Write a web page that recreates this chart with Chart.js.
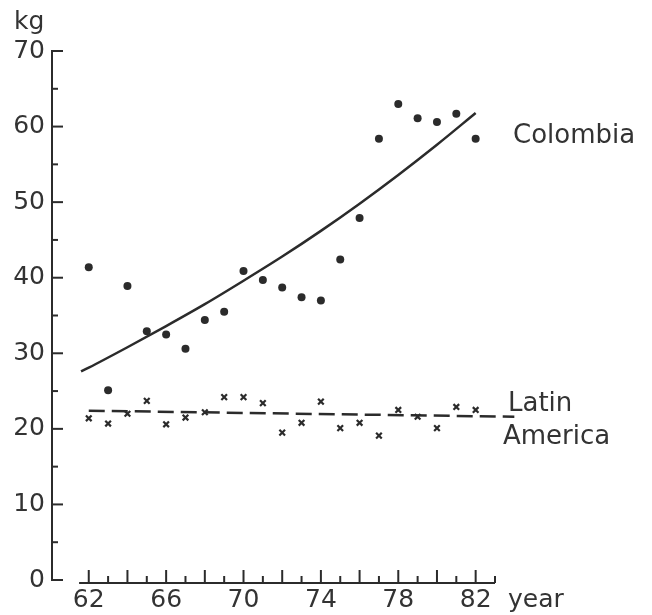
<!DOCTYPE html>
<html>
<head>
<meta charset="utf-8">
<script src="https://cdn.jsdelivr.net/npm/chart.js@4.4.1/dist/chart.umd.min.js"></script>
<style>
  html, body { margin: 0; padding: 0; background: #fff; }
  #wrap { width: 652px; height: 615px; position: relative; }
</style>
</head>
<body>
<div id="wrap"><canvas id="chart"></canvas></div>
<script>
// years on the x axis
const years = [62, 63, 64, 65, 66, 67, 68, 69, 70, 71, 72, 73, 74, 75, 76, 77, 78, 79, 80, 81, 82];
// Colombia, kg (dots)
const colombia = [41.4, 25.1, 38.9, 32.9, 32.5, 30.6, 34.4, 35.5, 40.9, 39.7, 38.7, 37.4, 37.0, 42.4, 47.9, 58.4, 63.0, 61.1, 60.6, 61.7, 58.4];
// Latin America, kg (crosses)
const latinAmerica = [21.4, 20.7, 22.0, 23.7, 20.6, 21.5, 22.2, 24.2, 24.2, 23.4, 19.5, 20.8, 23.6, 20.1, 20.8, 19.1, 22.5, 21.6, 20.1, 22.9, 22.5];
// fitted curve for Colombia
const colTrendYears = [61.6, 62, 64, 66, 68, 70, 72, 74, 76, 78, 80, 82];
const colTrend = [27.6, 28.1, 30.8, 33.6, 36.5, 39.6, 42.8, 46.2, 49.8, 53.6, 57.6, 61.8];
// fitted line for Latin America (dashed)
const laTrendYears = [62, 84];
const laTrend = [22.4, 21.6];
// tick labels
const xLabels = [62, 66, 70, 74, 78, 82];
const yLabels = [0, 10, 20, 30, 40, 50, 60, 70];

const ink = '#2b2b2b';
const font = "'DejaVu Sans', sans-serif";

function pts(xs, ys) {
    return xs.map(function (x, i) { return { x: x, y: ys[i] }; });
}

// draws the axis lines, tick marks and text labels
const axesPlugin = {
    id: 'axesPlugin',
    afterDraw: function (chart) {
        const ctx = chart.ctx;
        const xs = chart.scales.x;
        const ys = chart.scales.y;
        ctx.save();
        ctx.strokeStyle = ink;
        ctx.lineWidth = 2;
        ctx.lineCap = 'butt';

        // y axis
        const ax = xs.left;
        ctx.beginPath();
        ctx.moveTo(ax, ys.getPixelForValue(70) - 1);
        ctx.lineTo(ax, ys.getPixelForValue(0) + 1);
        ctx.stroke();
        for (let v = 0; v <= 70; v += 5) {
            const py = ys.getPixelForValue(v);
            ctx.beginPath();
            ctx.moveTo(ax, py);
            ctx.lineTo(ax + (v % 10 === 0 ? 11 : 6), py);
            ctx.stroke();
        }

        // x axis (drawn a little below zero)
        const by = ys.getPixelForValue(0) + 3;
        ctx.beginPath();
        ctx.moveTo(xs.getPixelForValue(61.5), by);
        ctx.lineTo(xs.getPixelForValue(83), by);
        ctx.stroke();
        for (let yr = 62; yr <= 83; yr++) {
            const px = xs.getPixelForValue(yr);
            ctx.beginPath();
            ctx.moveTo(px, by);
            ctx.lineTo(px, by - (yr % 2 === 0 ? 13 : 7));
            ctx.stroke();
        }

        // text
        ctx.fillStyle = '#333';
        ctx.textBaseline = 'middle';
        ctx.textAlign = 'left';
        ctx.font = '25px ' + font;
        ctx.fillText('kg', 14, 22);
        ctx.fillText('year', 508, 600);
        ctx.font = '26px ' + font;
        ctx.fillText('Colombia', 513, 136);
        ctx.fillText('Latin', 508, 404);
        ctx.fillText('America', 503, 437);
        ctx.restore();
    }
};

const ctx = document.getElementById('chart').getContext('2d');
new Chart(ctx, {
    type: 'scatter',
    data: {
        datasets: [{
            label: 'Colombia',
            data: pts(years, colombia),
            pointStyle: 'circle',
            pointRadius: 4,
            backgroundColor: ink,
            borderColor: ink,
            borderWidth: 0
        }, {
            label: 'Latin America',
            data: pts(years, latinAmerica),
            pointStyle: 'crossRot',
            pointRadius: 4,
            borderColor: ink,
            borderWidth: 2.2
        }, {
            label: 'Colombia trend',
            data: pts(colTrendYears, colTrend),
            showLine: true,
            pointRadius: 0,
            borderColor: ink,
            borderWidth: 2.5,
            cubicInterpolationMode: 'monotone'
        }, {
            label: 'Latin America trend',
            data: pts(laTrendYears, laTrend),
            showLine: true,
            pointRadius: 0,
            borderColor: ink,
            borderWidth: 2.5,
            borderDash: [16, 7],
            clip: false
        }]
    },
    options: {
        responsive: true,
        maintainAspectRatio: false,
        animation: false,
        events: [],
        layout: { padding: { top: 51, right: 157, left: 0, bottom: 0 } },
        plugins: {
            legend: { display: false },
            tooltip: { enabled: false }
        },
        scales: {
            x: {
                type: 'linear',
                min: 60.1,
                max: 83,
                grid: { display: false, drawTicks: false },
                border: { display: false },
                afterBuildTicks: function (scale) {
                    scale.ticks = xLabels.map(function (v) { return { value: v }; });
                },
                afterFit: function (scale) { scale.height = 35; },
                ticks: {
                    color: '#333',
                    font: { family: font, size: 25 },
                    padding: 5,
                    maxRotation: 0,
                    autoSkip: false
                }
            },
            y: {
                min: 0,
                max: 70,
                grid: { display: false, drawTicks: false },
                border: { display: false },
                afterBuildTicks: function (scale) {
                    scale.ticks = yLabels.map(function (v) { return { value: v }; });
                },
                afterFit: function (scale) { scale.width = 52; },
                ticks: {
                    color: '#333',
                    font: { family: font, size: 25 },
                    padding: 7
                }
            }
        }
    },
    plugins: [axesPlugin]
});
</script>
</body>
</html>
